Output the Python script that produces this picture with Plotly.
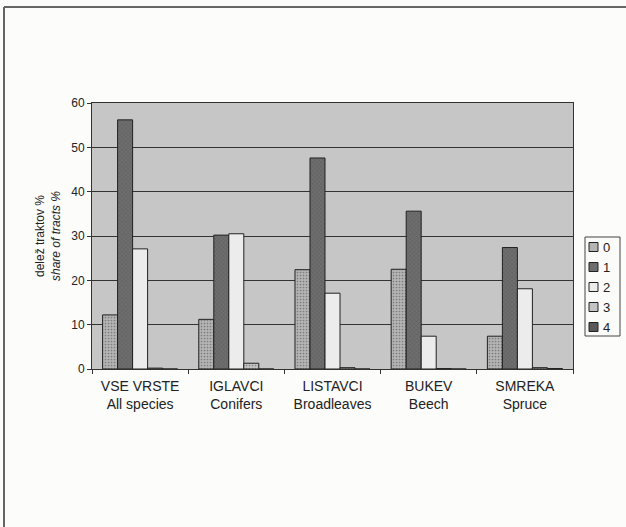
import plotly.graph_objects as go

categories = ["VSE VRSTE<br>All species", "IGLAVCI<br>Conifers", "LISTAVCI<br>Broadleaves",
              "BUKEV<br>Beech", "SMREKA<br>Spruce"]
series_names = ["0", "1", "2", "3", "4"]
s0 = [12.2, 11.2, 22.4, 22.5, 7.4]
s1 = [56.2, 30.2, 47.6, 35.6, 27.4]
s2 = [27.1, 30.5, 17.1, 7.4, 18.1]
s3 = [0.2, 1.3, 0.3, 0.1, 0.3]
s4 = [0.0, 0.0, 0.0, 0.0, 0.1]
values = [s0, s1, s2, s3, s4]

colors = ["#b4b4b4", "#6e6e6e", "#ececec", "#c4c4c4", "#5a5a5a"]
patterns = [".", "x", "", ".", "x"]

W, H = 626, 527
L, R, T, B = 92, 573, 103, 369

fig = go.Figure()
for name, vals, c, p in zip(series_names, values, colors, patterns):
    fig.add_trace(go.Bar(
        x=categories, y=vals, name=name, showlegend=False,
        marker=dict(color=c, line=dict(color="#222222", width=1),
                    pattern=dict(shape=p, fgcolor="#444444", size=3, solidity=0.25)),
    ))

def px2paper_x(px):
    return (px - L) / (R - L)

def px2paper_y(py):
    return (B - py) / (B - T)

# custom compact legend (box, swatches, labels)
shapes = [
    dict(type="line", xref="paper", yref="paper",
         x0=px2paper_x(4), x1=px2paper_x(W), y0=px2paper_y(7), y1=px2paper_y(7),
         line=dict(color="#666666", width=2)),
    dict(type="line", xref="paper", yref="paper",
         x0=px2paper_x(4), x1=px2paper_x(4), y0=px2paper_y(7), y1=px2paper_y(H),
         line=dict(color="#666666", width=2)),
    dict(type="rect", xref="paper", yref="paper",
         x0=px2paper_x(585), x1=px2paper_x(620), y0=px2paper_y(336), y1=px2paper_y(237),
         line=dict(color="#444444", width=1), fillcolor="#fbfbfa"),
]
annotations = []
for i, (name, c) in enumerate(zip(series_names, colors)):
    yc = 247 + i * 20
    shapes.append(dict(type="rect", xref="paper", yref="paper",
                       x0=px2paper_x(589), x1=px2paper_x(598),
                       y0=px2paper_y(yc + 4.5), y1=px2paper_y(yc - 4.5),
                       line=dict(color="#222222", width=1), fillcolor=c))
    annotations.append(dict(xref="paper", yref="paper", x=px2paper_x(601), y=px2paper_y(yc),
                            xanchor="left", yanchor="middle", text=name, showarrow=False,
                            font=dict(size=13, color="#222222")))

fig.update_layout(
    width=W, height=H,
    margin=dict(l=L, r=W - R, t=T, b=H - B, pad=0, autoexpand=False),
    paper_bgcolor="#fcfcfb",
    plot_bgcolor="#c6c6c6",
    barmode="group", bargap=0.22, bargroupgap=0,
    font=dict(family="Liberation Sans, Arial", size=12, color="#222222"),
    showlegend=False,
    xaxis=dict(showline=True, linecolor="#333333", mirror=True, ticks="outside",
               ticklen=4, tickcolor="#333333", tickson="boundaries",
               tickfont=dict(size=14), showgrid=False, ticklabelstandoff=4),
    yaxis=dict(range=[0, 60], dtick=10, showline=True, linecolor="#333333", mirror=True,
               ticks="outside", ticklen=4, tickcolor="#333333",
               showgrid=True, gridcolor="#333333", gridwidth=1,
               tickfont=dict(size=12), zeroline=False,
               title=dict(text="delež traktov %<br><i>share of tracts %</i>",
                          font=dict(size=12), standoff=8)),
    shapes=shapes,
    annotations=annotations,
)

fig.write_html("out.html", config={"displayModeBar": False},
               post_script="document.body.style.margin='0';")
